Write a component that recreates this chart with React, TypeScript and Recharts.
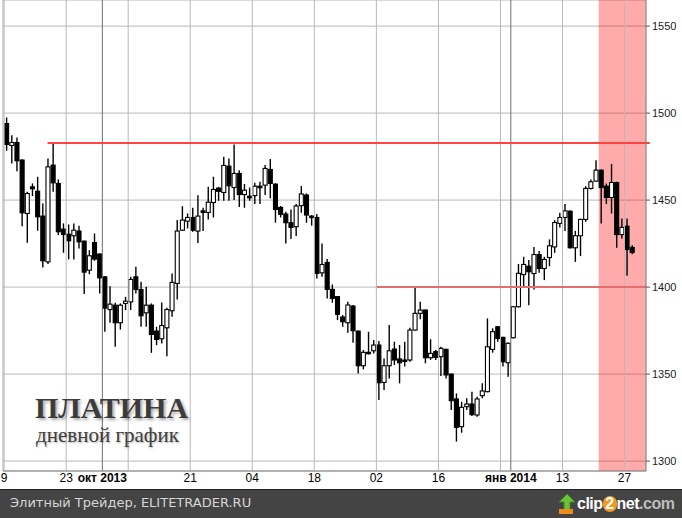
import React from 'react'
import {
  ComposedChart,
  Bar,
  XAxis,
  YAxis,
  CartesianGrid,
  ReferenceLine,
  ReferenceArea,
} from 'recharts'

// daily platinum candles, Sep 9 2013 .. Jan 29 2014 (Sun-Fri sessions)
const opens = [
  1494.0, 1481.4, 1483.1, 1473.0, 1442.3, 1457.6, 1455.1, 1440.8, 1414.5, 1470.1,
  1459.6, 1433.3, 1430.4, 1429.5, 1432.2, 1426.4, 1409.7, 1425.6, 1419.0, 1405.9,
  1387.1, 1389.6, 1379.5, 1390.6, 1391.5, 1405.9, 1398.6, 1385.2, 1389.6, 1374.7,
  1370.3, 1376.6, 1386.4, 1402.1, 1432.7, 1437.9, 1440.0, 1432.2, 1443.8, 1442.9,
  1448.6, 1456.9, 1454.4, 1469.5, 1457.2, 1465.3, 1453.2, 1452.3, 1452.6, 1458.0,
  1458.6, 1467.6, 1459.2, 1445.8, 1442.0, 1437.0, 1434.7, 1446.8, 1452.9, 1440.8,
  1440.0, 1408.2, 1414.2, 1398.7, 1394.5, 1382.8, 1379.5, 1389.1, 1374.7, 1354.8,
  1362.5, 1363.4, 1366.7, 1345.2, 1354.8, 1364.4, 1358.7, 1358.1, 1358.1, 1375.3,
  1384.9, 1386.8, 1359.4, 1362.9, 1360.0, 1364.2, 1350.0, 1335.7, 1319.8, 1331.3,
  1332.8, 1326.5, 1337.6, 1339.9, 1364.2, 1377.2, 1371.1, 1356.5, 1370.9, 1388.7,
  1407.2, 1412.0, 1407.8, 1418.7, 1410.7, 1417.0, 1423.1, 1436.6, 1440.0, 1443.6,
  1422.6, 1429.5, 1438.9, 1456.7, 1460.9, 1467.2, 1458.0, 1451.5, 1460.1, 1430.2,
  1435.0, 1422.8,
]
const highs = [
  1497.5, 1487.3, 1486.0, 1473.5, 1454.8, 1459.6, 1463.4, 1448.1, 1473.9, 1483.1,
  1461.9, 1436.6, 1436.0, 1436.6, 1435.2, 1426.8, 1421.2, 1430.8, 1419.4, 1406.3,
  1400.5, 1391.0, 1390.6, 1394.4, 1405.9, 1411.7, 1403.0, 1400.2, 1390.6, 1377.2,
  1391.2, 1388.1, 1407.8, 1438.5, 1446.5, 1442.3, 1445.6, 1452.8, 1445.6, 1457.6,
  1463.4, 1457.6, 1474.9, 1473.9, 1482.0, 1467.2, 1459.2, 1457.2, 1460.0, 1460.5,
  1470.1, 1473.6, 1459.6, 1446.6, 1443.3, 1444.6, 1447.7, 1458.1, 1453.8, 1441.4,
  1442.0, 1425.1, 1416.1, 1401.5, 1394.9, 1383.9, 1391.6, 1389.7, 1375.1, 1363.8,
  1374.3, 1369.6, 1369.0, 1359.0, 1378.2, 1368.6, 1366.7, 1368.6, 1376.7, 1399.8,
  1391.6, 1387.2, 1370.0, 1363.8, 1365.7, 1364.6, 1350.4, 1338.9, 1334.1, 1336.1,
  1339.9, 1337.0, 1344.7, 1382.0, 1376.3, 1377.6, 1371.5, 1368.1, 1389.1, 1413.3,
  1417.4, 1415.5, 1423.1, 1420.7, 1417.4, 1427.4, 1438.5, 1442.7, 1447.7, 1444.2,
  1432.3, 1439.3, 1458.0, 1461.8, 1472.9, 1467.6, 1459.5, 1470.7, 1460.5, 1439.4,
  1439.4, 1424.1,
]
const lows = [
  1478.3, 1471.0, 1466.6, 1435.0, 1425.5, 1452.3, 1432.4, 1411.3, 1413.2, 1454.8,
  1429.9, 1419.7, 1415.9, 1415.9, 1422.2, 1396.0, 1407.4, 1415.1, 1396.3, 1374.3,
  1379.5, 1365.7, 1375.6, 1386.8, 1386.8, 1396.3, 1377.2, 1377.2, 1362.2, 1366.6,
  1367.6, 1360.3, 1382.9, 1392.9, 1432.2, 1433.7, 1431.8, 1425.4, 1432.2, 1438.9,
  1440.0, 1449.6, 1449.6, 1449.6, 1450.0, 1446.1, 1445.6, 1449.6, 1447.7, 1447.7,
  1452.9, 1451.0, 1437.0, 1440.0, 1425.1, 1427.6, 1429.3, 1442.7, 1437.0, 1435.3,
  1405.0, 1405.9, 1393.5, 1391.0, 1381.0, 1377.2, 1373.8, 1368.0, 1350.4, 1352.7,
  1361.3, 1361.9, 1335.1, 1340.8, 1347.5, 1355.2, 1344.7, 1354.3, 1357.1, 1374.9,
  1381.5, 1356.2, 1358.1, 1358.1, 1348.9, 1347.5, 1329.3, 1311.2, 1316.3, 1329.3,
  1325.9, 1325.5, 1336.1, 1339.5, 1362.3, 1368.6, 1354.3, 1348.5, 1370.5, 1388.3,
  1400.2, 1389.6, 1398.6, 1408.2, 1404.0, 1412.0, 1419.7, 1434.3, 1432.3, 1422.2,
  1414.5, 1417.8, 1437.5, 1456.1, 1460.5, 1436.6, 1447.7, 1442.3, 1422.6, 1427.9,
  1406.5, 1418.9,
]
const closes = [
  1482.0, 1483.1, 1472.6, 1442.7, 1453.8, 1456.5, 1440.4, 1415.1, 1469.1, 1459.9,
  1431.8, 1430.2, 1426.6, 1432.7, 1426.0, 1408.6, 1418.0, 1416.1, 1405.3, 1387.9,
  1390.2, 1379.5, 1389.6, 1391.9, 1404.4, 1398.6, 1383.5, 1389.6, 1372.8, 1369.9,
  1377.9, 1387.1, 1402.7, 1432.2, 1438.5, 1440.0, 1432.7, 1440.8, 1442.9, 1448.8,
  1456.1, 1455.0, 1469.9, 1458.2, 1465.3, 1453.2, 1455.7, 1451.3, 1458.0, 1457.1,
  1468.2, 1459.6, 1444.6, 1441.8, 1437.0, 1434.3, 1446.6, 1453.5, 1441.4, 1439.9,
  1407.9, 1413.0, 1398.7, 1393.5, 1384.3, 1380.1, 1389.7, 1374.9, 1354.8, 1362.5,
  1361.7, 1366.7, 1345.0, 1354.8, 1363.4, 1358.1, 1356.5, 1357.3, 1375.3, 1384.9,
  1386.8, 1359.4, 1361.9, 1359.6, 1364.8, 1349.5, 1334.7, 1319.4, 1330.9, 1332.8,
  1326.7, 1335.7, 1340.3, 1365.7, 1374.4, 1370.5, 1357.1, 1367.7, 1388.7, 1407.9,
  1413.0, 1408.8, 1418.7, 1410.7, 1415.9, 1423.7, 1437.1, 1440.0, 1443.8, 1422.6,
  1429.5, 1438.9, 1456.7, 1460.5, 1467.2, 1457.2, 1451.5, 1460.1, 1430.2, 1434.3,
  1421.6, 1419.9,
]

// bottom labels: candle boundary (index - 0.5) and text
const tickAt = [0.5, 12.5, 19.5, 36.5, 48.5, 60.5, 72.5, 84.5, 98.5, 108.5, 120.5]
const tickText = ['9', '23', 'окт 2013', '21', '04', '18', '02', '16', 'янв 2014', '13', '27']
const monthLines = [19.5, 98.5]
const weekLines = [0.5, 12.5, 24.5, 36.5, 48.5, 60.5, 72.5, 84.5, 96.5, 108.5, 120.5]
const priceTicks = [1300, 1350, 1400, 1450, 1500, 1550]
const resistance = 1482.8
const support = 1400

const data = opens.map((o, i) => ({
  k: i + 1,
  o,
  h: highs[i],
  l: lows[i],
  c: closes[i],
  range: [lows[i], highs[i]],
}))

const Candle = (props: any) => {
  const { x, y, width, height, payload } = props
  if (!payload) return null
  const top = Math.min(y, y + height)
  const bot = Math.max(y, y + height)
  const span = payload.h - payload.l || 1
  const py = (v: number) => top + ((payload.h - v) / span) * (bot - top)
  const cx = x + width / 2
  const up = payload.c >= payload.o
  const bt = py(Math.max(payload.o, payload.c))
  const bb = py(Math.min(payload.o, payload.c))
  return (
    <g>
      <line x1={cx} x2={cx} y1={top} y2={bot} stroke="#000" strokeWidth={1.4} />
      <rect
        x={cx - 2}
        y={bt}
        width={4}
        height={Math.max(bb - bt, 1)}
        fill={up ? '#fff' : '#000'}
        stroke="#000"
        strokeWidth={1.1}
      />
    </g>
  )
}

const DateTick = (props: any) => {
  const { x, y, payload } = props
  const i = tickAt.indexOf(payload.value)
  const label = i >= 0 ? tickText[i] : ''
  const bold = label.length > 2
  return (
    <text
      x={x}
      y={y + 11}
      textAnchor="middle"
      fill="#000"
      fontSize={12}
      fontWeight={bold ? 700 : 400}
      fontFamily="'Liberation Sans Narrow', 'Arial Narrow', 'Liberation Sans', sans-serif"
    >
      {label}
    </text>
  )
}

export default function App() {
  return (
    <div style={{ position: 'absolute', left: 0, top: 0, width: 682, height: 518, background: '#fff' }}>
      <ComposedChart
        width={682}
        height={489}
        data={data}
        margin={{ top: 0, right: 0, bottom: 0, left: 3 }}
      >
        <ReferenceArea
          x1={115.5}
          x2={124.65}
          y1={1294.3}
          y2={1565}
          fill="#ff0000"
          fillOpacity={0.33}
          stroke="none"
        />
        <CartesianGrid vertical={false} stroke="#b8b8b8" />
        <XAxis
          dataKey="k"
          type="number"
          domain={[0.284, 124.65]}
          allowDataOverflow
          ticks={tickAt}
          interval={0}
          tick={<DateTick />}
          tickLine={false}
          tickSize={0}
          tickMargin={0}
          height={18}
          axisLine={{ stroke: '#888' }}
        />
        <YAxis
          orientation="right"
          width={36}
          domain={[1294.3, 1565]}
          allowDataOverflow
          ticks={priceTicks}
          interval={0}
          tickSize={4}
          tickMargin={2}
          tickLine={{ stroke: '#555' }}
          axisLine={{ stroke: '#777' }}
          tick={{ fill: '#222', fontSize: 11, fontFamily: "'Liberation Sans', Arial, sans-serif", textAnchor: 'start' }}
        />
        <ReferenceLine x={0.284} stroke="#aaa" />
        {weekLines.map((v) => (
          <ReferenceLine key={'w' + v} x={v} stroke="#b8b8b8" />
        ))}
        {monthLines.map((v) => (
          <ReferenceLine key={'m' + v} x={v} stroke="#6e6e6e" />
        ))}
        <ReferenceLine
          segment={[{ x: 8.9, y: resistance }, { x: 125.4, y: resistance }]}
          stroke="#ff4242"
          strokeWidth={2}
          ifOverflow="visible"
        />
        <ReferenceLine
          segment={[{ x: 72.6, y: support }, { x: 124.65, y: support }]}
          stroke="#e46e6e"
          strokeWidth={2}
          ifOverflow="visible"
        />
        <Bar dataKey="range" barSize={5} shape={<Candle />} isAnimationActive={false} />
      </ComposedChart>

      <svg width={240} height={70} style={{ position: 'absolute', left: 0, top: 385 }}>
        <text
          x={35}
          y={33}
          fontSize={30}
          fontWeight={700}
          fill="#3c3c3c"
          fontFamily="'Liberation Serif', 'DejaVu Serif', serif"
          style={{ textShadow: '2px 2px 3px rgba(0,0,0,0.35)' }}
        >
          ПЛАТИНА
        </text>
        <text
          x={36}
          y={57}
          fontSize={21}
          fill="#404040"
          fontFamily="'Liberation Serif', 'DejaVu Serif', serif"
          style={{ textShadow: '1px 1px 2px rgba(0,0,0,0.3)' }}
        >
          дневной график
        </text>
      </svg>

      <div
        style={{
          position: 'absolute',
          left: 0,
          top: 489,
          width: 682,
          height: 29,
          background: '#444',
          borderTop: '1px solid #222',
          boxSizing: 'border-box',
        }}
      >
        <div
          style={{
            position: 'absolute',
            left: 10,
            top: 5,
            color: '#d6d6d6',
            fontSize: 13,
            fontFamily: "'DejaVu Sans', sans-serif",
          }}
        >
          Элитный Трейдер, ELITETRADER.RU
        </div>
        <svg width={20} height={22} style={{ position: 'absolute', left: 557, top: 3 }}>
          <polygon points="10,1 18,9 13,9 13,17 7,17 7,9 2,9" fill="#6cc23a" stroke="#3d8a1a" strokeWidth={1} />
          <rect x={2} y={16} width={14} height={5} fill="#f08a1c" />
        </svg>
        <div
          style={{
            position: 'absolute',
            left: 577,
            top: 4,
            fontSize: 16,
            lineHeight: '20px',
            fontWeight: 700,
            letterSpacing: -0.5,
            whiteSpace: 'nowrap',
            fontFamily: "'Liberation Sans', Arial, sans-serif",
            color: '#fff',
          }}
        >
          clip
          <span
            style={{
              display: 'inline-block',
              background: '#f39a1e',
              borderRadius: 8,
              width: 14,
              textAlign: 'center',
              lineHeight: '16px',
            }}
          >
            2
          </span>
          net<span style={{ color: '#bdbdbd' }}>.com</span>
        </div>
      </div>
    </div>
  )
}
